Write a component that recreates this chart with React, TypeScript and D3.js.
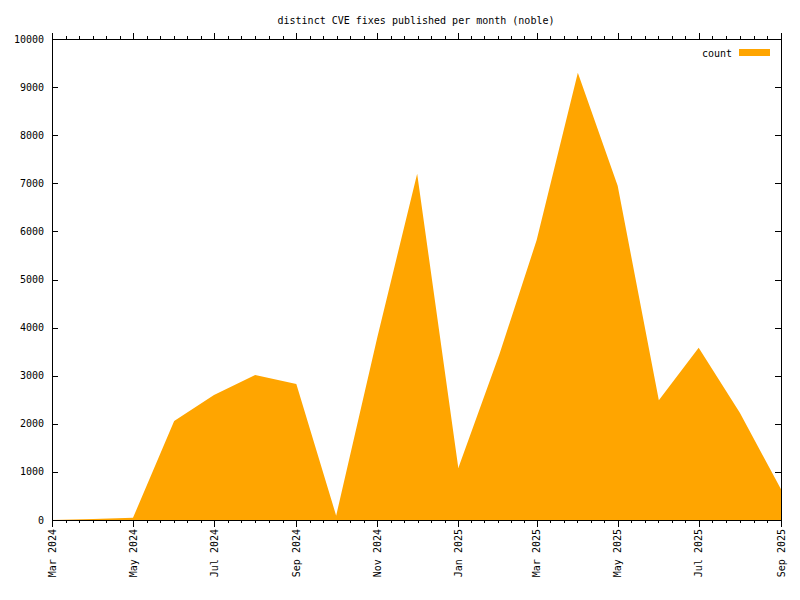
import React from "react";
import * as d3 from "d3";

const months: string[] = [
  "2024-03", "2024-04", "2024-05", "2024-06", "2024-07", "2024-08", "2024-09",
  "2024-10", "2024-11", "2024-12", "2025-01", "2025-02", "2025-03", "2025-04",
  "2025-05", "2025-06", "2025-07", "2025-08", "2025-09",
];
const counts: number[] = [
  0, 20, 45, 2060, 2600, 3015, 2830, 90, 3800, 7200, 1080, 3450, 5820, 9300,
  6950, 2490, 3580, 2230, 640,
];
const yTicks: number[] = [0, 1000, 2000, 3000, 4000, 5000, 6000, 7000, 8000, 9000, 10000];
const xTickMonths: string[] = [
  "2024-03", "2024-05", "2024-07", "2024-09", "2024-11", "2025-01", "2025-03",
  "2025-05", "2025-07", "2025-09",
];
const title = "distinct CVE fixes published per month (noble)";
const seriesName = "count";

const parseMonth = (s: string) => {
  const [y, m] = s.split("-").map(Number);
  return new Date(Date.UTC(y, m - 1, 1));
};
const monNames = ["Jan", "Feb", "Mar", "Apr", "May", "Jun", "Jul", "Aug", "Sep", "Oct", "Nov", "Dec"];
const fmt = (d: Date) => `${monNames[d.getUTCMonth()]} ${d.getUTCFullYear()}`;

export default function App() {
  const W = 800, H = 600;
  const L = 52, R = 781, T = 39, B = 520;
  const x = d3.scaleUtc().domain([parseMonth(months[0]), parseMonth(months[months.length - 1])]).range([L, R]);
  const y = d3.scaleLinear().domain([0, 10000]).range([B, T]);
  const data = months.map((m, i) => ({ d: parseMonth(m), v: counts[i] }));
  const area = d3.area<{ d: Date; v: number }>().x(p => x(p.d)).y0(y(0)).y1(p => y(p.v)).curve(d3.curveLinear);
  const majors = xTickMonths.map(parseMonth);
  const minors: number[] = [];
  for (let i = 0; i < majors.length - 1; i++) {
    const a = x(majors[i]), b = x(majors[i + 1]);
    for (let k = 1; k < 6; k++) minors.push(a + ((b - a) * k) / 6);
  }
  const px = (v: number) => Math.round(v) + 0.5;
  const font = "'DejaVu Sans Mono', monospace";
  return (
    <svg width={W} height={H} style={{ position: "absolute", left: 0, top: 0, background: "#fff" }} fontFamily={font} fontSize={10}>
      <rect x={0} y={0} width={W} height={H} fill="#fff" />
      <path d={area(data) || ""} fill="#ffa500" />
      <g stroke="#000" strokeWidth={1} shapeRendering="crispEdges">
        {yTicks.map(t => (
          <g key={t}>
            <line x1={L} x2={L + 6} y1={px(y(t))} y2={px(y(t))} />
            <line x1={R - 6} x2={R} y1={px(y(t))} y2={px(y(t))} />
          </g>
        ))}
        {majors.map((d, i) => (
          <g key={i}>
            <line x1={px(x(d))} x2={px(x(d))} y1={B} y2={B + 7} />
            <line x1={px(x(d))} x2={px(x(d))} y1={T} y2={T - 6} />
          </g>
        ))}
        {minors.map((m, i) => (
          <g key={"m" + i}>
            <line x1={px(m)} x2={px(m)} y1={B} y2={B + 3} />
            <line x1={px(m)} x2={px(m)} y1={T} y2={T - 3} />
          </g>
        ))}
        <rect x={L + 0.5} y={T + 0.5} width={R - L} height={B - T} fill="none" />
      </g>
      {yTicks.map(t => (
        <text key={t} x={44} y={y(t)} textAnchor="end" dominantBaseline="central" fill="#000">{t}</text>
      ))}
      {majors.map((d, i) => (
        <text key={i} transform={`translate(${x(d)},529) rotate(-90)`} textAnchor="end" dominantBaseline="central" fill="#000">{fmt(d)}</text>
      ))}
      <text x={416} y={20} textAnchor="middle" dominantBaseline="central" fill="#000">{title}</text>
      <text x={732} y={53} textAnchor="end" dominantBaseline="central" fill="#000">{seriesName}</text>
      <rect x={739} y={49} width={31} height={7} fill="#ffa500" />
    </svg>
  );
}
